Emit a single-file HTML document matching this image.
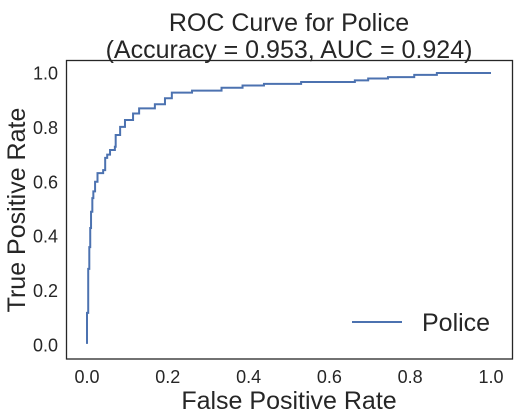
<!DOCTYPE html>
<html><head><meta charset="utf-8"><style>
body{margin:0;background:#fff;}
svg{display:block;font-family:"Liberation Sans",sans-serif;}
</style></head><body>
<svg width="519" height="416">
<g id="chart"></g>
</svg>
<script>
const fprValues=[0,0,0.003,0.0057,0.008,0.01,0.0132,0.0157,0.02,0.026,0.04,0.045,0.05,0.057,0.069,0.071,0.082,0.094,0.114,0.129,0.168,0.193,0.21,0.26,0.333,0.385,0.438,0.53,0.663,0.696,0.745,0.81,0.866,1.0];
const tprValues=[0.004,0.118,0.28,0.36,0.43,0.49,0.54,0.565,0.6,0.632,0.643,0.688,0.7,0.717,0.729,0.772,0.802,0.827,0.851,0.87,0.885,0.907,0.928,0.935,0.946,0.954,0.96,0.967,0.973,0.98,0.985,0.993,1.0,1.0];
const xTicks=[0,0.2,0.4,0.6,0.8,1.0];
const yTicks=[0,0.2,0.4,0.6,0.8,1.0];
const ns="http://www.w3.org/2000/svg";
const g=document.getElementById('chart');
const X=v=>87+v*404, Y=v=>345-v*272;
function mk(t,a,txt){const e=document.createElementNS(ns,t);for(const k in a)e.setAttribute(k,a[k]);if(txt!==undefined)e.textContent=txt;g.appendChild(e);return e;}
let e=mk('rect',{x:66.5,y:60.5,width:446,height:298.5,fill:'none',stroke:'#262626','stroke-width':1.3});


xTicks.forEach(v=>{const t=mk('text',{x:X(v),y:383,'text-anchor':'middle','font-size':18,fill:'#262626'},v.toFixed(1));

});
yTicks.forEach(v=>{const t=mk('text',{x:58,y:Y(v)+6.5,'text-anchor':'end','font-size':18,fill:'#262626'},v.toFixed(1));

});
let d='M'+X(fprValues[0])+','+Y(tprValues[0]);
for(let i=1;i<fprValues.length;i++){d+=' L'+X(fprValues[i])+','+Y(tprValues[i-1])+' L'+X(fprValues[i])+','+Y(tprValues[i]);}
e=mk('path',{d:d,fill:'none',stroke:'#4c72b0','stroke-width':2});


e=mk('text',{x:289,y:31,'text-anchor':'middle','font-size':25,fill:'#262626'},'ROC Curve for Police');


e=mk('text',{x:289,y:58,'text-anchor':'middle','font-size':25,fill:'#262626'},'(Accuracy = 0.953, AUC = 0.924)');


e=mk('text',{x:289,y:409,'text-anchor':'middle','font-size':25,fill:'#262626'},'False Positive Rate');


e=mk('text',{x:0,y:0,'text-anchor':'middle','font-size':25,fill:'#262626',transform:'translate(25,210) rotate(-90)'},'True Positive Rate');


e=mk('line',{x1:352,y1:322,x2:402,y2:322,stroke:'#4c72b0','stroke-width':2});


e=mk('text',{x:422,y:331,'font-size':25,fill:'#262626'},'Police');


</script>
</body></html>
